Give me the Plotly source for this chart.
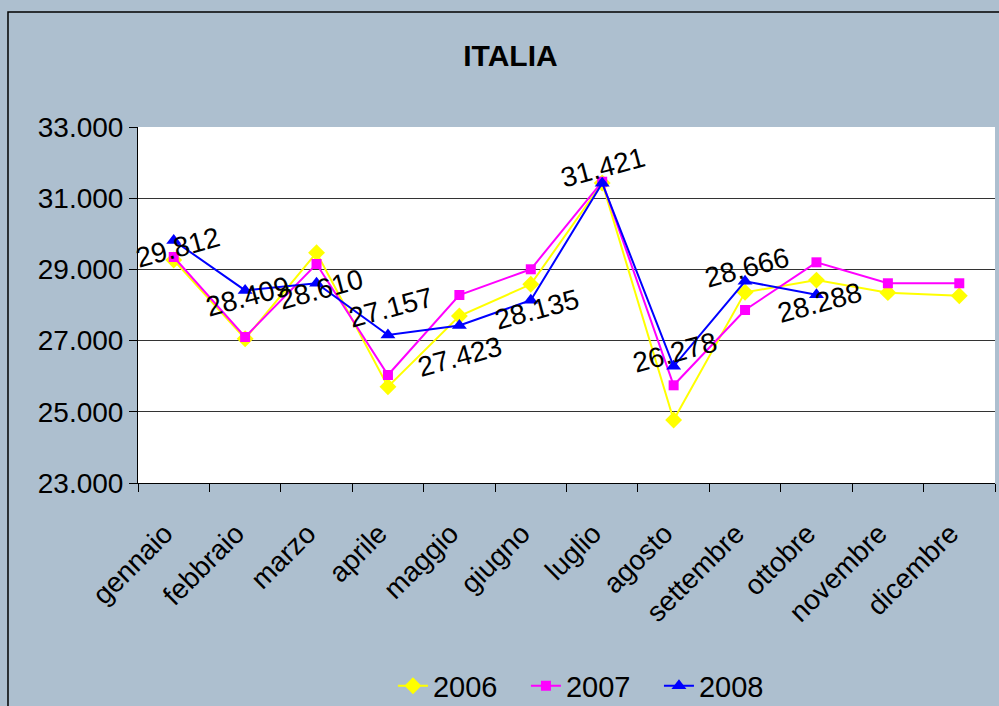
import plotly.graph_objects as go

months = ["gennaio", "febbraio", "marzo", "aprile", "maggio", "giugno",
          "luglio", "agosto", "settembre", "ottobre", "novembre", "dicembre"]
y2006 = [29264, 27050, 29470, 25705, 27691, 28581, 31427, 24770, 28357, 28700, 28347, 28261]
y2007 = [29348, 27101, 29152, 26034, 28281, 29003, 31463, 25744, 27860, 29199, 28610, 28610]
y2008 = [29812, 28409, 28610, 27157, 27423, 28135, 31421, 26278, 28666, 28288, None, None]
y_ticks = [23000, 25000, 27000, 29000, 31000, 33000]

# label offsets in pixels (style only)
label_shift = [(4, -7), (3, -6), (4, -6), (3, 28), (1, -31), (6, -9),
               (1, 16), (1, 14), (2, 14), (4, -8)]

FONT = "Liberation Sans, Arial, sans-serif"
BG = "rgb(173,191,207)"

fig = go.Figure()
fig.add_trace(go.Scatter(x=months, y=y2006, name="2006", mode="lines+markers",
                         line=dict(color="#FFFF00", width=2),
                         marker=dict(symbol="diamond", size=13, color="#FFFF00")))
fig.add_trace(go.Scatter(x=months, y=y2007, name="2007", mode="lines+markers",
                         line=dict(color="#FF00FF", width=2),
                         marker=dict(symbol="square", size=10, color="#FF00FF")))
fig.add_trace(go.Scatter(x=months, y=y2008, name="2008", mode="lines+markers",
                         line=dict(color="#0000FF", width=2),
                         marker=dict(symbol="triangle-up", size=13, color="#0000FF")))

annotations = []
for i, (m, v) in enumerate(zip(months, y2008)):
    if v is None:
        continue
    dx, dy = label_shift[i]
    annotations.append(dict(x=m, y=v, xref="x", yref="y",
                            text=f"{v:,}".replace(",", "."), showarrow=False,
                            textangle=-15, xshift=dx, yshift=dy,
                            font=dict(family=FONT, size=28, color="black")))

fig.update_layout(
    width=999, height=706,
    margin=dict(l=138, r=4, t=127, b=223, autoexpand=False),
    paper_bgcolor=BG, plot_bgcolor="white",
    separators=",.",
    font=dict(family=FONT, color="black"),
    title=dict(text="<b>ITALIA</b>", x=0.511, xanchor="center", y=0.922, yanchor="middle",
               font=dict(family=FONT, size=30, color="black")),
    showlegend=True,
    legend=dict(orientation="h", x=0.2975, xanchor="left", y=-0.570, yanchor="middle",
                entrywidth=88, entrywidthmode="pixels",
                bgcolor="rgba(0,0,0,0)", font=dict(family=FONT, size=29)),
    annotations=annotations,
    shapes=[dict(type="rect", xref="paper", yref="paper", x0=-0.1517, x1=1.01,
                 y0=-0.9, y1=1.323, line=dict(color="black", width=1.5),
                 fillcolor="rgba(0,0,0,0)", layer="below")],
)
fig.update_xaxes(type="category", range=[-0.5, len(months) - 0.5], autorange=False,
                 showline=True, linecolor="black", linewidth=1,
                 ticks="outside", tickson="boundaries", ticklen=8, tickcolor="black",
                 tickangle=-45, ticklabelstandoff=22, ticklabelshift=-9,
                 tickfont=dict(family=FONT, size=28), showgrid=False)
fig.update_yaxes(range=[23000, 33000], tickmode="array", tickvals=y_ticks, tickformat=",d",
                 showline=True, linecolor="black", linewidth=1,
                 ticks="outside", ticklen=8, tickcolor="black",
                 showgrid=True, gridcolor="#333333", gridwidth=1, zeroline=False,
                 tickfont=dict(family=FONT, size=28))

fig.write_html("out.html", config={"displayModeBar": False},
               post_script="document.body.style.margin='0px';")
